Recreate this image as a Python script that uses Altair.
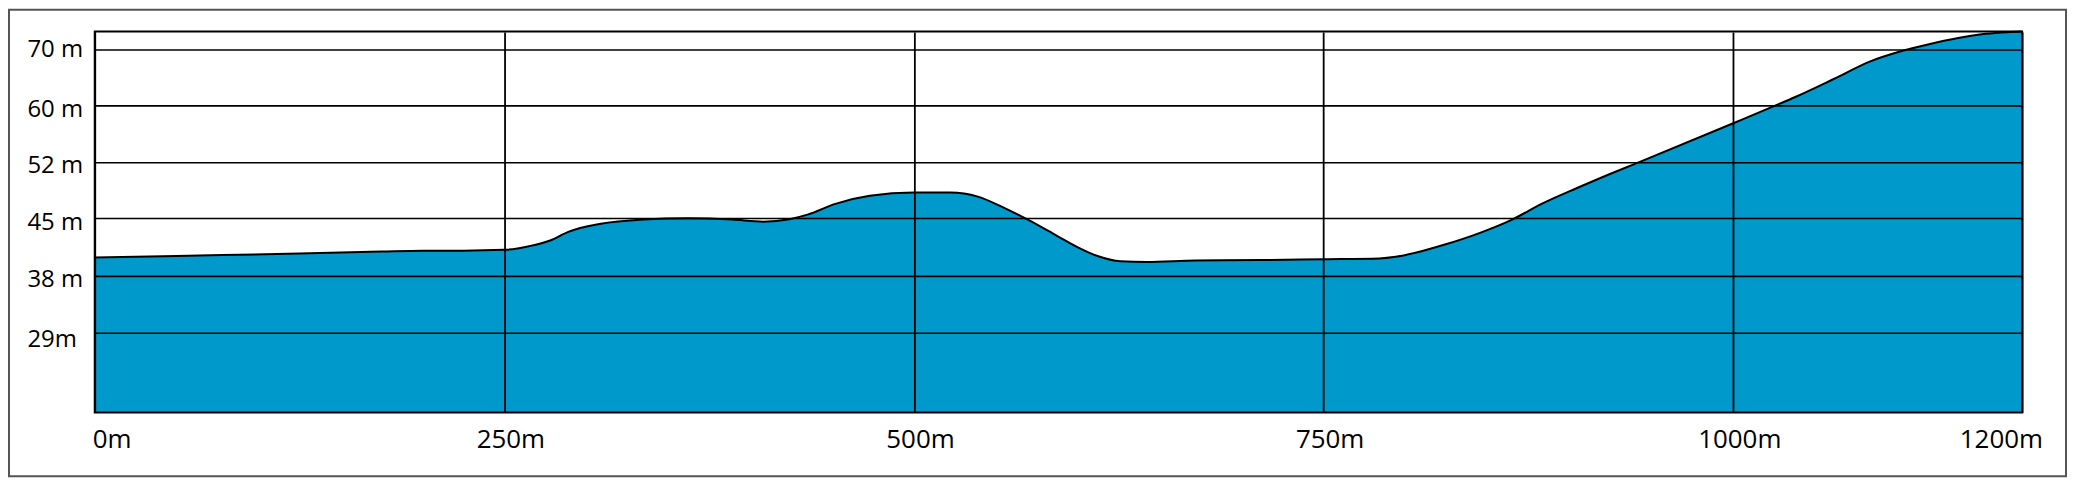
import altair as alt
import pandas as pd

# ---- data (distance in m, elevation in m) ----
DIST = [0, 50, 125, 175, 200, 225, 250, 265, 278, 289, 308, 335, 362, 389, 408,
        424, 435, 452, 473, 500, 522, 539, 555, 570, 587, 600, 612, 626, 642,
        672, 713, 750, 784, 794, 806, 824, 845, 865, 883, 905, 920, 943, 1000,
        1029, 1043, 1070, 1095, 1115, 1135, 1155, 1175, 1190, 1200]
ELEV = [40.2, 40.4, 40.7, 40.95, 41.05, 41.05, 41.15, 41.6, 42.3, 43.35, 44.3,
        44.85, 45.0, 44.85, 44.6, 44.9, 45.46, 46.8, 47.8, 48.2, 48.2, 47.7,
        46.3, 44.78, 42.9, 41.46, 40.39, 39.75, 39.65, 39.85, 39.9, 40.0, 40.1,
        40.3, 40.8, 41.8, 43.2, 44.85, 46.8, 48.8, 50.1, 52.0, 57.5, 60.0,
        61.55, 64.8, 67.9, 69.6, 70.9, 72.0, 72.8, 73.1, 73.2]
X_TICKS = [0, 250, 500, 750, 1000, 1200]
Y_TICKS = [29, 38, 45, 52, 60, 70]
Y_BOTTOM = 16.4
Y_TOP = 73.2

# ---- layout ----
W, H = 1933, 382
X_DOMAIN = [0, 1000, 1200]
X_RANGE = [0, 1643.3, 1932.7]
Y_DOMAIN = [Y_BOTTOM] + Y_TICKS + [Y_TOP]
Y_RANGE = [381.7, 302, 244.7, 187.3, 130.7, 74.3, 18, 0]

FONT = "Open Sans"
BLUE = "#0099CC"

df = pd.DataFrame({"d": DIST, "e": ELEV})
one = pd.DataFrame({"k": [0]})

xscale = alt.Scale(domain=X_DOMAIN, range=X_RANGE, type="linear", zero=False, nice=False)
yscale = alt.Scale(domain=Y_DOMAIN, range=Y_RANGE, type="linear", zero=False, nice=False)

xaxis = alt.Axis(
    values=X_TICKS, labelExpr="datum.value + 'm'", title=None,
    grid=True, gridColor="black", gridWidth=1.8, domain=False, ticks=False, tickSize=0,
    labelPadding=35, labelBaseline="alphabetic", labelAlign="center",
    labelFont=FONT, labelFontSize=26, labelColor="black",
    labelFlush=False, labelOverlap=False, zindex=1,
    labelOffset={"condition": [{"test": "datum.value == 0", "value": 17},
                               {"test": "datum.value == 1200", "value": -21}],
                 "value": 6},
)
yaxis = alt.Axis(
    values=Y_TICKS, labelExpr="datum.value == 29 ? '29m' : datum.value + ' m'", title=None,
    grid=True, gridColor="black", gridWidth=1.6, domain=False, ticks=False, tickSize=0,
    labelPadding=68, labelAlign="left", labelBaseline="alphabetic",
    labelFont=FONT, labelFontSize=24, labelColor="black",
    labelFlush=False, labelOverlap=False, zindex=1,
    labelOffset={"condition": [{"test": "datum.value == 29", "value": 14},
                               {"test": "datum.value == 70", "value": 7}],
                 "value": 11},
)

area = alt.Chart(df).mark_area(color=BLUE, interpolate="monotone").encode(
    x=alt.X("d:Q", scale=xscale, axis=xaxis),
    y=alt.Y("e:Q", scale=yscale, axis=yaxis),
    y2=alt.datum(Y_BOTTOM),
)
line = alt.Chart(df).mark_line(color="black", strokeWidth=2, interpolate="monotone").encode(
    x="d:Q", y="e:Q"
)
plot_frame = alt.Chart(one).mark_rect(filled=False, stroke="black", strokeWidth=2).encode(
    x=alt.value(0), x2=alt.value(W), y=alt.value(0), y2=alt.value(H)
)
outer_frame = alt.Chart(one).mark_rect(filled=False, stroke="#555555", strokeWidth=2).encode(
    x=alt.value(-86), x2=alt.value(1977), y=alt.value(-22), y2=alt.value(446)
)

chart = alt.layer(area, line, plot_frame, outer_frame).properties(
    width=W, height=H,
    autosize=alt.AutoSizeParams(type="none"),
    padding={"left": 87, "top": 23, "right": 45, "bottom": 65},
    background="white",
).configure_view(stroke=None)

chart.save("out.html", embed_options={"renderer": "svg", "actions": False})
